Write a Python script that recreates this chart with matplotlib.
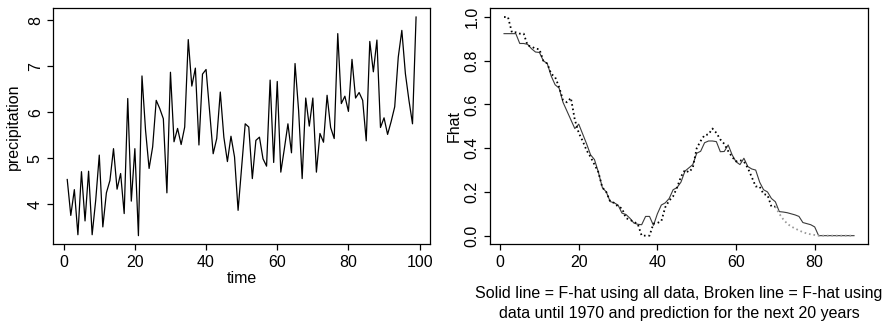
import numpy as np
import matplotlib
matplotlib.use("Agg")
import matplotlib.pyplot as plt

plt.rcParams["font.family"] = ["Liberation Sans", "DejaVu Sans"]

# Annual precipitation series (time index 1..99)
precipitation = [
    4.54, 3.76, 4.32, 3.34, 4.71, 3.64, 4.72, 3.34, 4.09, 5.07,
    3.51, 4.25, 4.52, 5.21, 4.33, 4.67, 3.80, 6.30, 4.07, 5.21,
    3.32, 6.79, 5.61, 4.78, 5.25, 6.26, 6.08, 5.86, 4.25, 6.87,
    5.36, 5.65, 5.30, 5.68, 7.58, 6.57, 6.96, 5.29, 6.83, 6.93,
    6.02, 5.10, 5.43, 6.44, 5.46, 4.93, 5.48, 5.03, 3.87, 4.81,
    5.75, 5.68, 4.56, 5.39, 5.46, 4.99, 4.83, 6.70, 4.91, 6.67,
    4.70, 5.21, 5.75, 5.12, 7.06, 6.04, 4.56, 6.31, 5.70, 6.31,
    4.70, 5.54, 5.35, 6.37, 5.67, 5.43, 7.71, 6.19, 6.35, 6.02,
    7.15, 6.31, 6.43, 6.26, 5.38, 7.54, 6.88, 7.57, 5.67, 5.88,
    5.52, 5.80, 6.12, 7.20, 7.78, 6.84, 6.26, 5.75, 8.07,
]
time = list(range(1, len(precipitation) + 1))

# F-hat estimated from all data (x = 1..90)
fhat_all = [
    0.924, 0.924, 0.924, 0.924, 0.879, 0.879, 0.875, 0.855, 0.840, 0.838,
    0.800, 0.787, 0.730, 0.690, 0.675, 0.610, 0.570, 0.530, 0.490, 0.510,
    0.465, 0.420, 0.370, 0.348, 0.290, 0.220, 0.200, 0.156, 0.150, 0.140,
    0.103, 0.097, 0.080, 0.058, 0.052, 0.050, 0.088, 0.088, 0.047, 0.100,
    0.140, 0.150, 0.170, 0.210, 0.220, 0.245, 0.295, 0.310, 0.325, 0.377,
    0.386, 0.425, 0.433, 0.433, 0.430, 0.384, 0.385, 0.415, 0.370, 0.338,
    0.325, 0.354, 0.316, 0.305, 0.300, 0.245, 0.210, 0.200, 0.170, 0.155,
    0.110, 0.108, 0.105, 0.100, 0.095, 0.088, 0.060, 0.055, 0.050, 0.040,
    0.000, 0.000, 0.000, 0.000, 0.000, 0.000, 0.000, 0.000, 0.000, 0.000,
]
x_all = list(range(1, len(fhat_all) + 1))

# F-hat estimated from data until 1970 (x = 1..70)
fhat_1970 = [
    1.000, 1.000, 0.930, 0.930, 0.924, 0.924, 0.870, 0.865, 0.855, 0.853,
    0.800, 0.787, 0.740, 0.725, 0.680, 0.620, 0.610, 0.630, 0.530, 0.470,
    0.433, 0.390, 0.360, 0.325, 0.290, 0.220, 0.200, 0.156, 0.150, 0.133,
    0.125, 0.080, 0.073, 0.063, 0.054, 0.000, 0.000, 0.000, 0.055, 0.058,
    0.066, 0.130, 0.160, 0.180, 0.220, 0.270, 0.300, 0.290, 0.310, 0.400,
    0.433, 0.460, 0.463, 0.490, 0.470, 0.440, 0.420, 0.387, 0.360, 0.340,
    0.345, 0.339, 0.309, 0.268, 0.225, 0.225, 0.190, 0.186, 0.133, 0.133,
]
x_1970 = list(range(1, len(fhat_1970) + 1))

# Prediction for the next 20 years (x = 70..90)
fhat_pred = [
    0.133, 0.100, 0.075, 0.055, 0.042, 0.033, 0.024, 0.016, 0.010, 0.006,
    0.003, 0.000, 0.000, 0.000, 0.000, 0.000, 0.000, 0.000, 0.000, 0.000,
    0.000,
]
x_pred = list(range(70, 70 + len(fhat_pred)))

fs = 11.5
fig = plt.figure(figsize=(8.85, 3.25), dpi=100)
ax1 = fig.add_axes([0.0602, 0.248, 0.4257, 0.7265])
ax2 = fig.add_axes([0.5537, 0.248, 0.4271, 0.7265])

for ax in (ax1, ax2):
    for sp in ax.spines.values():
        sp.set_linewidth(0.9)
    ax.tick_params(direction="out", length=4, width=0.9, labelsize=fs, pad=3.5)

# Left: precipitation time series
ax1.plot(time, precipitation, color="black", lw=0.9)
ax1.set_xlim(-2.92, 102.92)
ax1.set_ylim(3.13, 8.26)
ax1.set_xticks([0, 20, 40, 60, 80, 100])
ax1.set_yticks([4, 5, 6, 7, 8])
ax1.set_xlabel("time", fontsize=fs, labelpad=1)
ax1.set_ylabel("precipitation", fontsize=fs, labelpad=5)
plt.setp(ax1.get_yticklabels(), rotation=90, va="center")

# Right: F-hat curves
ax2.plot(x_all, fhat_all, color="#3a3a3a", lw=0.8)
ax2.plot(x_1970, fhat_1970, color="black", lw=1.3, linestyle=(0, (0.9, 1.6)))
ax2.plot(x_pred, fhat_pred, color="#999999", lw=1.3, linestyle=(0, (0.9, 1.6)))
ax2.set_xlim(-2.56, 93.56)
ax2.set_ylim(-0.04, 1.04)
ax2.set_xticks([0, 20, 40, 60, 80])
ax2.set_yticks([0.0, 0.2, 0.4, 0.6, 0.8, 1.0])
ax2.set_yticklabels(["0.0", "0.2", "0.4", "0.6", "0.8", "1.0"])
plt.setp(ax2.get_yticklabels(), rotation=90, va="center")
ax2.set_ylabel("Fhat", fontsize=fs, labelpad=2)
ax2.set_xlabel("Solid line = F-hat using all data, Broken line = F-hat using\n"
               "data until 1970 and prediction for the next 20 years",
               fontsize=fs, labelpad=11.5, linespacing=1.4)

fig.savefig("out.png", dpi=100)
